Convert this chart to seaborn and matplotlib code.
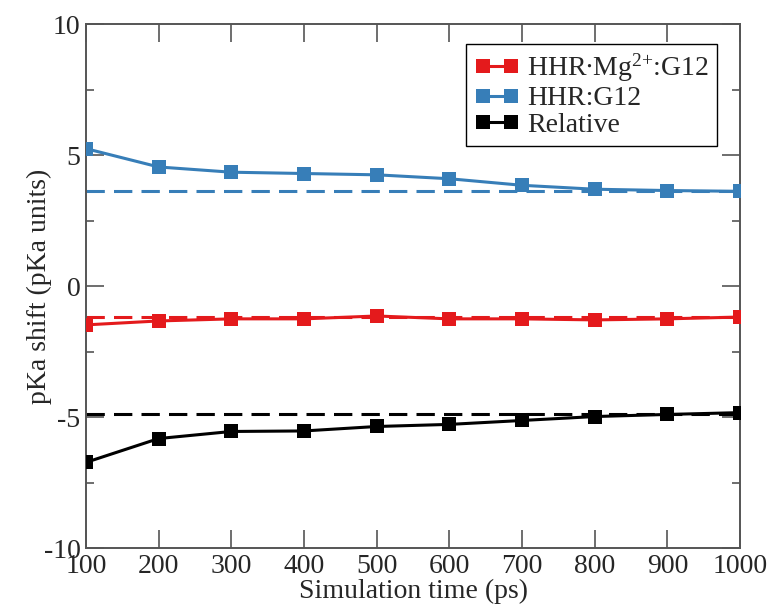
import numpy as np
import pandas as pd
import seaborn as sns
from matplotlib import pyplot as plt

# simulation times (ps)
time_ps = [100, 200, 300, 400, 500, 600, 700, 800, 900, 1000]

# pKa shifts
mg_g12 = [-1.48, -1.33, -1.25, -1.25, -1.14, -1.25, -1.25, -1.29, -1.25, -1.18]
hhr_g12 = [5.25, 4.55, 4.35, 4.3, 4.25, 4.1, 3.85, 3.7, 3.65, 3.62]
relative = [-6.73, -5.82, -5.55, -5.53, -5.36, -5.28, -5.13, -4.98, -4.9, -4.83]

# converged reference values (dashed)
mg_ref = -1.18
hhr_ref = 3.62
rel_ref = -4.87

labels = ['HHR$\\bullet$Mg$^{2{+}}$:G12', 'HHR:G12', 'Relative']
colors = ['#e41a1c', '#377eb8', '#000000']

sns.set_style('ticks')
plt.rcParams['font.family'] = ['Liberation Serif', 'DejaVu Serif']
plt.rcParams['mathtext.fontset'] = 'custom'
plt.rcParams['mathtext.rm'] = 'Liberation Serif'
plt.rcParams['mathtext.it'] = 'Liberation Serif'
plt.rcParams['axes.unicode_minus'] = False

df = pd.DataFrame({
    'time': time_ps * 3,
    'shift': mg_g12 + hhr_g12 + relative,
    'series': [labels[0]] * 10 + [labels[1]] * 10 + [labels[2]] * 10,
})

fig = plt.figure(figsize=(7.71, 6.06), dpi=100)
ax = fig.add_axes([0.1115, 0.0957, 0.8485, 0.8643])

for ref, c in zip([mg_ref, hhr_ref, rel_ref], colors):
    ax.axhline(ref, color=c, lw=2.2, dashes=(6, 3), zorder=1)

sns.lineplot(data=df, x='time', y='shift', hue='series', hue_order=labels,
             palette=colors, marker='s', markersize=10.5, markeredgewidth=0,
             linewidth=2.2, ax=ax, zorder=3)

ax.set_xlim(100, 1000)
ax.set_ylim(-10, 10)
ax.set_xticks(time_ps)
ax.set_yticks([-10, -5, 0, 5, 10])
ax.set_yticks([-7.5, -2.5, 2.5, 7.5], minor=True)
ax.tick_params(direction='in', which='both', top=True, right=True,
               labelsize=20, width=1.2, color='#555555', pad=4)
ax.tick_params(which='major', length=13)
ax.tick_params(which='minor', length=6)
for sp in ax.spines.values():
    sp.set_color('#555555')
    sp.set_linewidth(1.4)

ax.set_xlabel('Simulation time (ps)', fontsize=20, labelpad=0)
ax.set_ylabel('pKa shift (pKa units)', fontsize=20, labelpad=-6)

leg = ax.legend(loc='upper right', bbox_to_anchor=(0.965, 0.963), fontsize=20,
                numpoints=2, handlelength=1.6, handletextpad=0.3,
                labelspacing=0.05, borderpad=0.3, borderaxespad=0,
                fancybox=False, framealpha=1, edgecolor='black')
leg.get_frame().set_linewidth(1)

plt.savefig('out.png', dpi=100)
